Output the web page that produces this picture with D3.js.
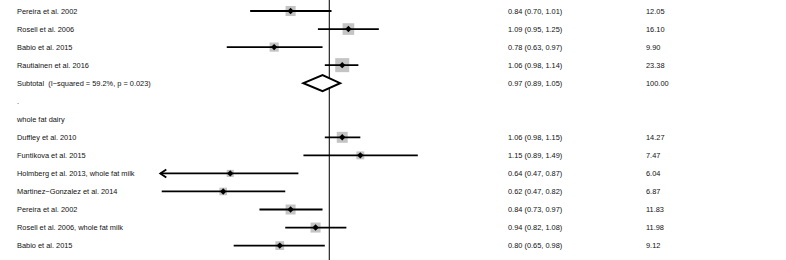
<!DOCTYPE html>
<html>
<head>
<meta charset="utf-8">
<script src="https://cdn.jsdelivr.net/npm/d3@7"></script>
<style>
  body { margin: 0; background: #fff; }
  text { font-family: "Liberation Sans", Arial, Helvetica, sans-serif; font-size: 7.4px; fill: #111; white-space: pre; }
</style>
</head>
<body>
<svg id="chart" width="786" height="260"></svg>
<script>
// rows of the forest plot, top to bottom
var labels = [
    "Pereira et al. 2002",
    "Rosell et al. 2006",
    "Babio et al. 2015",
    "Rautiainen et al. 2016",
    "Subtotal  (I\u2212squared = 59.2%, p = 0.023)",
    ".",
    "whole fat dairy",
    "Duffley et al. 2010",
    "Funtikova et al. 2015",
    "Holmberg et al. 2013, whole fat milk",
    "Martinez\u2212Gonzalez et al. 2014",
    "Pereira et al. 2002",
    "Rosell et al. 2006, whole fat milk",
    "Babio et al. 2015",
    ];
var rowKind = ["study", "study", "study", "study", "subtotal", "blank", "header",
    "study", "study", "study", "study", "study", "study", "study"];
var estimate = [0.84, 1.09, 0.78, 1.06, 0.97, null, null, 1.06, 1.15, 0.64, 0.62, 0.84, 0.94, 0.80];
var lower = [0.70, 0.95, 0.63, 0.98, 0.89, null, null, 0.98, 0.89, 0.466, 0.47, 0.73, 0.82, 0.65];
var upper = [1.01, 1.25, 0.97, 1.14, 1.05, null, null, 1.15, 1.49, 0.87, 0.82, 0.97, 1.08, 0.98];
var weights = [12.05, 16.10, 9.90, 23.38, 100.00, null, null, 14.27, 7.47, 6.04, 6.87, 11.83, 11.98, 9.12];

var axisMin = 0.467,
    axisMax = 1 / 0.467;

var svg = d3.select("#chart");

var x = d3.scaleLog()
    .domain([axisMin, axisMax])
    .range([160.3, 498.3]);

var y = d3.scalePoint()
    .domain(d3.range(labels.length))
    .range([11, 245.6]);

var rows = labels.map(function(l, i) {
    return {
        i: i,
        label: l,
        kind: rowKind[i],
        es: estimate[i],
        lo: lower[i],
        hi: upper[i],
        w: weights[i],
    };
});

function fmt(v) {
    return v.toFixed(2);
}

// null line
svg.append("line")
    .attr("x1", x(1)).attr("x2", x(1))
    .attr("y1", 0).attr("y2", 260)
    .attr("stroke", "#111")
    .attr("stroke-width", 1.1);

// labels and the text columns
var textRows = svg.selectAll("g.row")
    .data(rows)
    .enter().append("g")
    .attr("class", "row")
    .attr("transform", function(d) { return "translate(0," + y(d.i) + ")"; });

textRows.append("text")
    .attr("x", 17)
    .attr("dy", "0.35em")
    .text(function(d) { return d.label; });

textRows.filter(function(d) { return d.es != null; })
    .append("text")
    .attr("x", 508)
    .attr("dy", "0.35em")
    .text(function(d) { return fmt(d.es) + " (" + fmt(d.lo) + ", " + fmt(d.hi) + ")"; });

textRows.filter(function(d) { return d.w != null; })
    .append("text")
    .attr("x", 646)
    .attr("dy", "0.35em")
    .text(function(d) { return fmt(d.w); });

// studies: weight box, ci line, point
var studies = rows.filter(function(d) { return d.kind == "study"; });

var st = svg.selectAll("g.study")
    .data(studies)
    .enter().append("g")
    .attr("class", "study")
    .attr("transform", function(d) { return "translate(0," + y(d.i) + ")"; });

st.append("rect")
    .attr("x", function(d) { return x(d.es) - 1.45 * Math.sqrt(d.w); })
    .attr("y", function(d) { return -1.45 * Math.sqrt(d.w); })
    .attr("width", function(d) { return 2.9 * Math.sqrt(d.w); })
    .attr("height", function(d) { return 2.9 * Math.sqrt(d.w); })
    .attr("fill", "#c4c4c4");

st.append("line")
    .attr("x1", function(d) { return x(Math.max(d.lo, axisMin)); })
    .attr("x2", function(d) { return x(Math.min(d.hi, axisMax)); })
    .attr("stroke", "#000")
    .attr("stroke-width", 1.8);

// arrow when the ci runs off the left of the axis
st.filter(function(d) { return d.lo < axisMin; })
    .append("path")
    .attr("d", function(d) {
        var x0 = x(axisMin);
        return "M" + (x0 + 6) + ",-4L" + x0 + ",0L" + (x0 + 6) + ",4";
    })
    .attr("fill", "none")
    .attr("stroke", "#000")
    .attr("stroke-width", 1.8);

st.append("path")
    .attr("d", function(d) {
        var cx = x(d.es), r = 3.2;
        return "M" + cx + "," + (-r) + "L" + (cx + r) + ",0L" + cx + "," + r + "L" + (cx - r) + ",0Z";
    })
    .attr("fill", "#000");

// pooled estimate diamond
svg.selectAll("path.pooled")
    .data(rows.filter(function(d) { return d.kind == "subtotal"; }))
    .enter().append("path")
    .attr("class", "pooled")
    .attr("d", function(d) {
        var yc = y(d.i), h = 8;
        return "M" + x(d.lo) + "," + yc +
            "L" + x(d.es) + "," + (yc - h) +
            "L" + x(d.hi) + "," + yc +
            "L" + x(d.es) + "," + (yc + h) + "Z";
    })
    .attr("fill", "#fff")
    .attr("stroke", "#000")
    .attr("stroke-width", 2);
</script>
</body>
</html>
